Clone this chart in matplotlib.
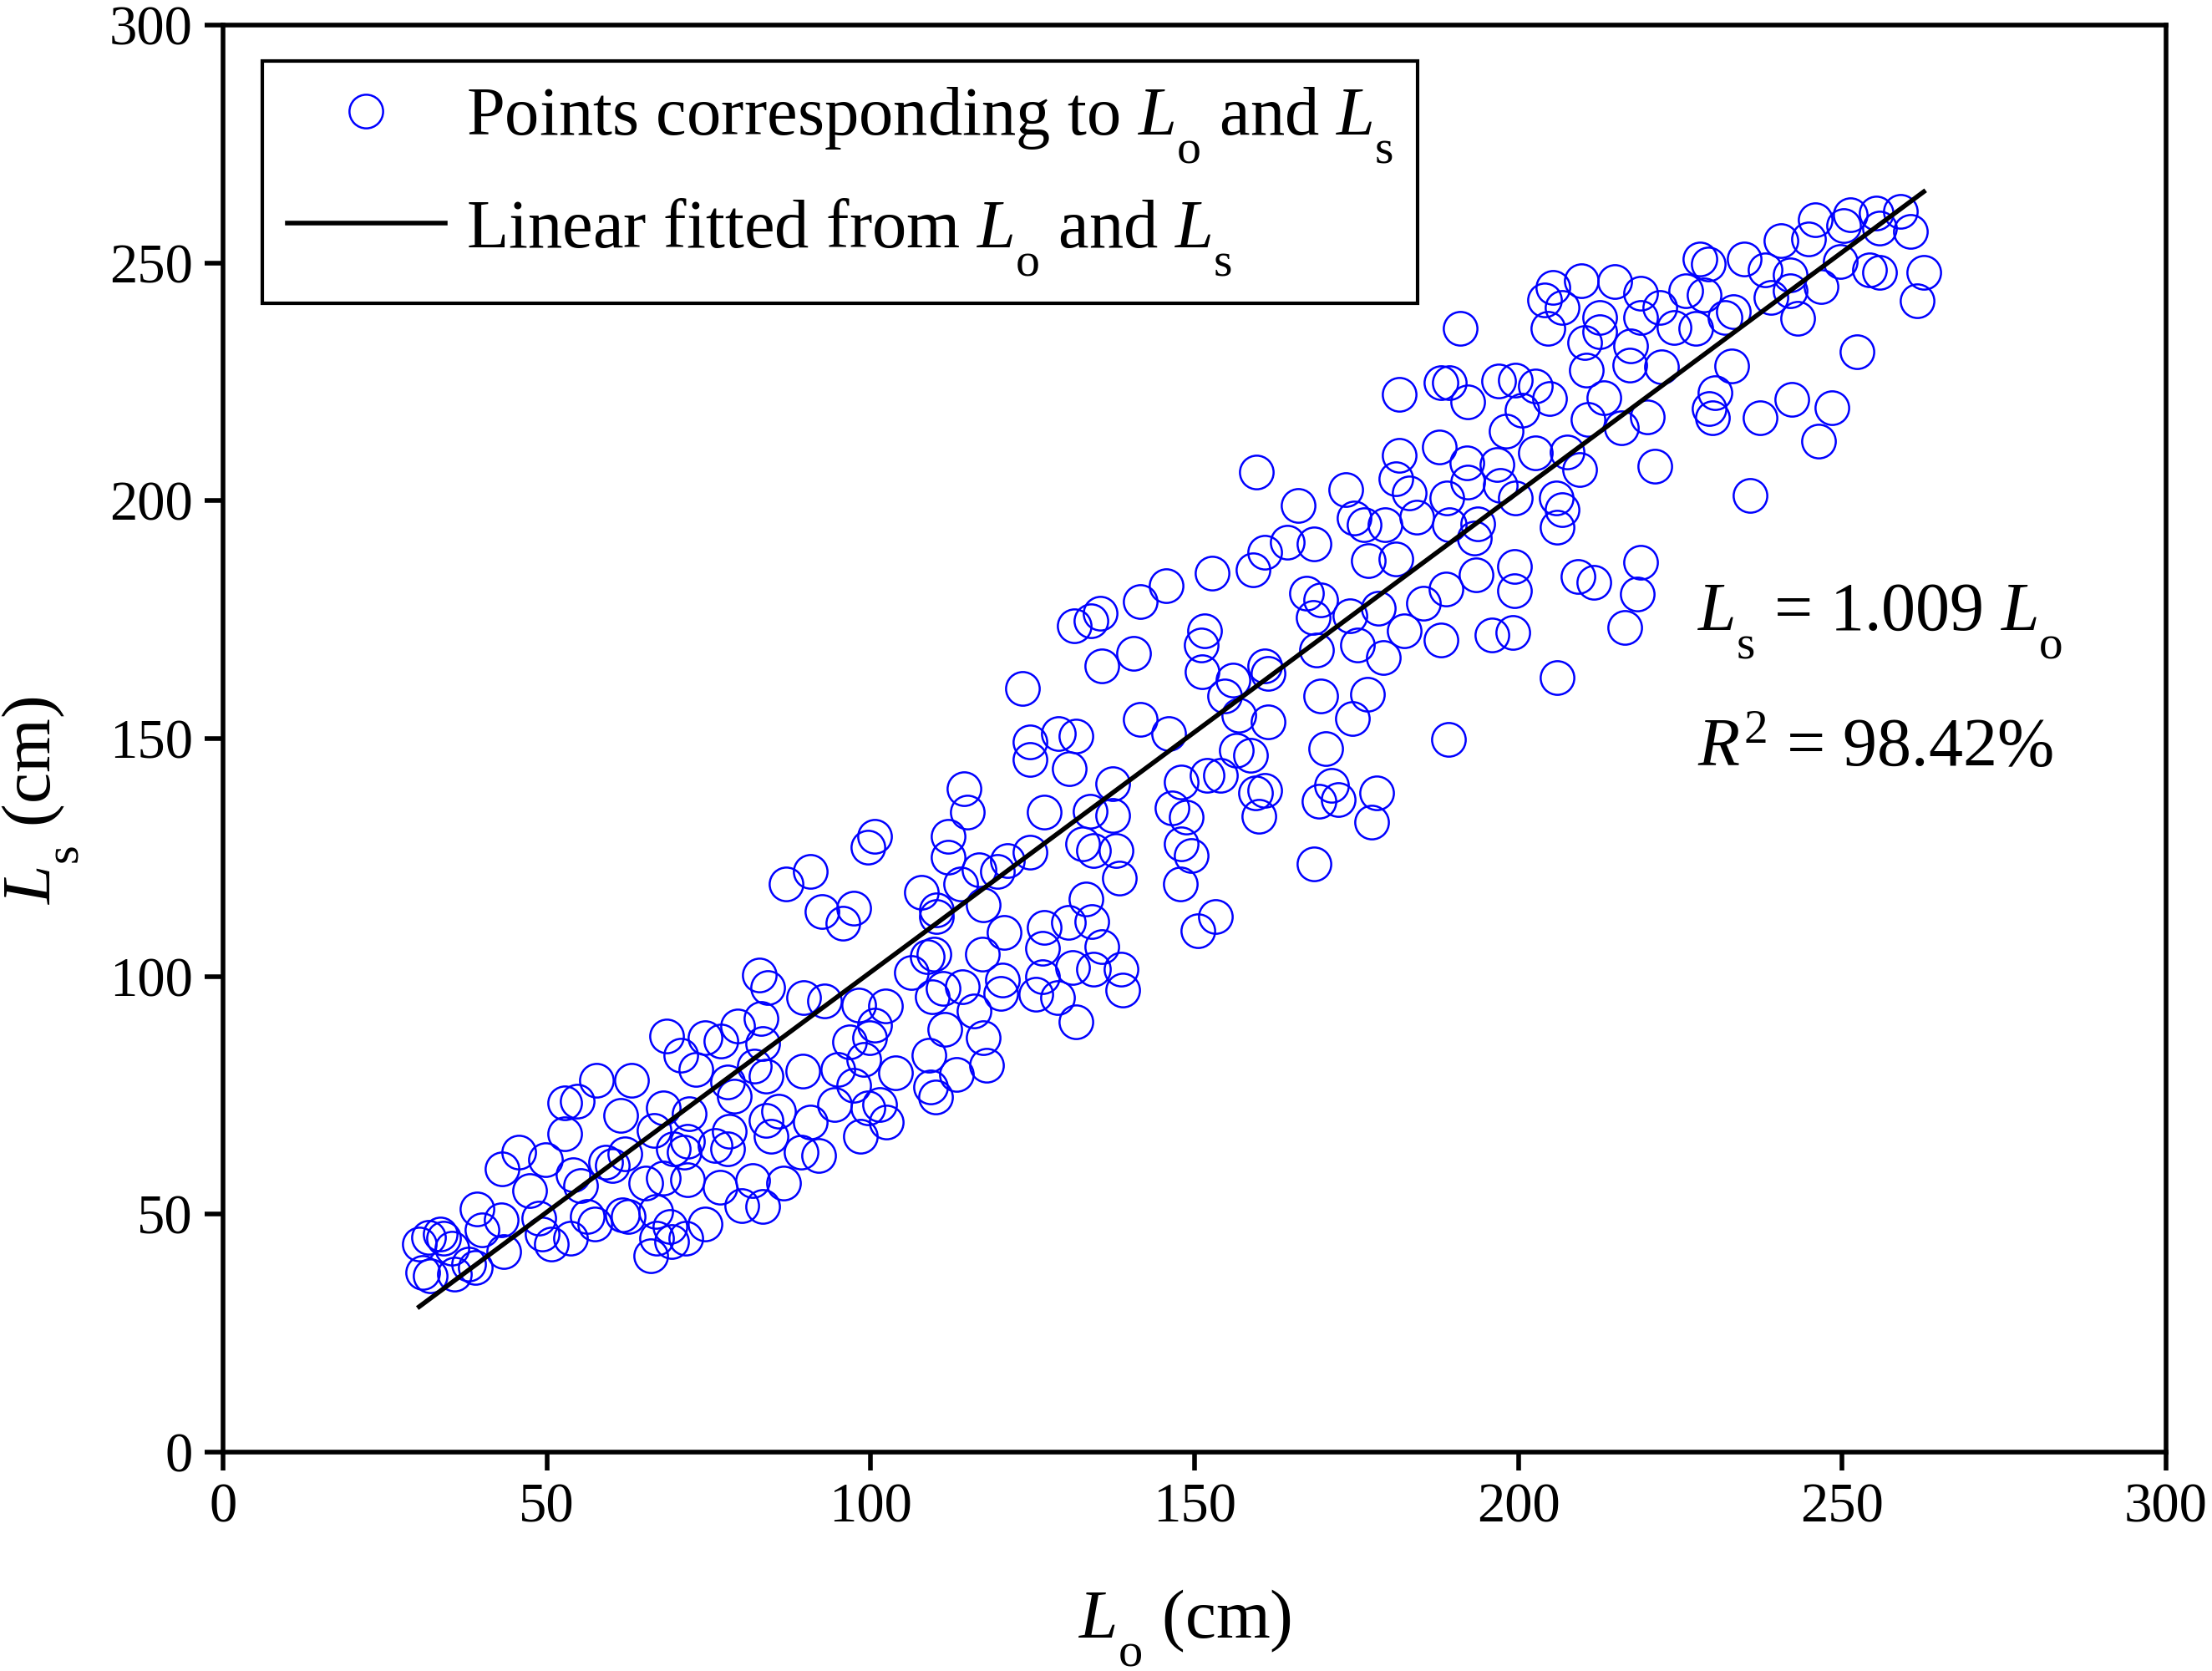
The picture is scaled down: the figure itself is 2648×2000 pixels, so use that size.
#!/usr/bin/env python3
# -*- coding: utf-8 -*-
"""
Scatter of the observed length L_o against the simulated length L_s with the
linear fit through the origin.
"""

import numpy as np
import matplotlib

matplotlib.use("Agg")
import matplotlib.pyplot as plt
from matplotlib import _mathtext

##################################Data#########################################
# points, grouped by region of the band (low -> high)
LO_LOW = [
    30.9, 31.7, 33.5, 34.0, 35.3, 32.0, 35.7, 38.9, 39.2, 42.9, 40.0, 43.3,
    37.9, 43.1, 45.7, 49.8, 47.3, 52.7, 54.7, 57.7, 63.1, 52.7, 61.4, 54.0,
    55.2, 48.8, 49.3, 50.7, 53.7, 56.2, 57.4, 61.6, 59.1, 62.1, 60.1, 62.6,
    66.8, 67.0, 66.1, 69.3, 71.5, 69.0, 74.4, 66.5, 68.0, 68.5, 70.7, 73.0,
    74.4, 76.9, 79.4, 82.8, 84.1, 83.1, 83.3, 77.9, 78.9, 83.8, 82.1, 72.0,
    71.7, 71.2, 69.5, 68.0, 71.7, 76.7, 78.2, 77.9, 83.8, 84.6, 85.8, 81.8,
    86.5, 83.3, 80.1, 89.2, 92.0, 90.7, 89.5, 89.7, 92.9, 94.9, 96.7, 98.1,
    99.9, 98.9, 97.4, 94.4, 98.4, 95.7, 65.3, 76.0, 99.6, 100.6, 30.3,
]
LS_LOW = [
    37.8, 45.2, 45.9, 44.9, 42.8, 37.1, 37.5, 38.8, 51.2, 48.9, 46.7, 42.2,
    39.5, 59.6, 63.0, 61.5, 55.0, 73.4, 73.8, 78.1, 78.1, 67.0, 70.7, 58.3,
    56.0, 49.2, 45.9, 43.8, 44.9, 49.6, 47.9, 49.9, 61.0, 62.7, 60.3, 49.6,
    50.6, 44.9, 41.2, 44.2, 44.9, 47.5, 47.9, 67.7, 72.4, 87.5, 83.5, 80.5,
    87.2, 86.5, 89.5, 100.3, 97.6, 91.2, 85.9, 77.8, 74.8, 79.1, 81.1, 71.1,
    65.4, 63.0, 63.7, 57.6, 57.3, 55.6, 67.4, 63.7, 69.7, 66.4, 71.7, 57.0,
    56.6, 51.6, 51.9, 63.0, 62.3, 69.4, 80.1, 95.6, 94.9, 80.5, 86.2, 93.9,
    87.2, 82.5, 77.1, 73.1, 66.4, 111.1, 56.6, 64.5, 72.4, 89.8, 43.8,
]

LO_MID = [
    87.0, 90.7, 92.5, 97.4, 99.6, 100.6, 102.3, 103.8, 101.4, 102.4, 109.3,
    110.0, 113.2, 109.0, 117.9, 117.4, 111.5, 115.9, 109.5, 111.2, 114.2,
    120.4, 120.1, 106.3, 109.8, 108.8, 117.2, 120.6, 117.4, 126.8, 126.5,
    126.5, 125.5, 128.8, 131.7, 131.2, 134.4, 135.7, 134.2, 133.2, 130.5,
    138.6, 138.9, 107.8, 110.2, 110.2, 113.9, 112.0, 112.0, 114.9, 114.4,
    116.7, 119.6, 121.1, 124.6, 126.8, 124.6, 124.6, 129.0, 131.7, 130.7,
    137.4, 133.9, 137.4, 132.7, 134.4, 137.9, 138.4, 141.6, 146.0, 148.0,
    146.5, 148.7, 148.0, 149.5, 147.8, 150.5, 152.0, 123.5,
]
LS_MID = [
    119.4, 122.1, 113.7, 114.3, 127.1, 129.4, 93.8, 79.7, 73.0, 69.3, 76.7,
    74.7, 79.4, 83.4, 81.4, 87.1, 88.8, 92.8, 95.8, 97.5, 97.9,
    99.2, 96.5, 100.9, 104.6, 104.2, 104.6, 109.3, 115.0, 110.3, 105.9,
    99.9, 96.2, 95.5, 90.5, 101.9, 101.5, 106.3, 111.6, 116.3, 111.3,
    101.5, 97.2, 117.7, 114.0, 112.6, 119.4, 125.1, 129.4, 134.5, 139.5,
    122.4, 122.1, 124.4, 126.1, 134.5, 145.6, 149.3, 151.0, 150.6, 143.6,
    140.5, 134.8, 133.8, 127.8, 126.4, 126.4, 120.7, 154.0, 151.0, 140.9,
    135.5, 133.5, 127.8, 125.4, 119.4, 109.6, 142.2, 160.5,
]

LO_UPPER = [
    159.6, 166.0, 173.4, 174.7, 176.2, 176.9, 174.0, 175.2, 178.4, 167.3,
    169.5, 168.3, 168.8, 164.3, 168.5, 160.9, 159.1, 152.7, 145.6, 141.6,
    135.4, 134.0, 131.5, 151.5, 151.0, 151.2, 135.7, 140.6, 154.7, 155.9,
    160.9, 161.4, 156.9, 161.4, 156.4, 158.6, 154.0, 160.9, 159.4, 159.9,
    169.2, 171.2, 172.2, 178.1, 177.4, 170.2, 169.5, 176.7, 174.4, 189.2,
    168.5, 153.2,
]
LS_UPPER = [
    206.0, 199.0, 202.3, 196.3, 194.9, 187.5, 175.8, 169.7, 177.4, 180.5,
    179.1, 175.4, 168.7, 191.2, 190.9, 189.2, 185.5, 184.8, 182.1, 178.8,
    176.4, 174.8, 173.7, 172.7, 169.7, 164.0, 165.3, 168.0, 159.0, 162.3,
    165.3, 163.7, 154.9, 153.6, 147.5, 146.5, 142.2, 139.1, 138.5, 133.7,
    136.8, 140.1, 137.1, 138.5, 132.4, 147.9, 159.0, 159.3, 154.3, 149.9,
    123.7, 112.6,
]

LO_HIGH = [
    191.0, 205.3, 204.1, 206.8, 204.6, 209.7, 214.9, 218.9, 212.5, 212.5,
    210.2, 218.9, 217.4, 221.8, 210.5, 217.2, 222.1, 213.2, 210.7, 215.9,
    219.9, 204.8, 200.6, 202.6, 199.6, 196.9, 192.2, 189.3, 188.0, 181.6,
    198.1, 187.8, 181.6, 181.1, 183.1, 184.3, 189.0, 192.2, 196.7, 197.2,
    199.6, 202.6, 207.5, 209.5, 205.8, 206.8, 206.0, 193.7, 189.3, 179.4,
    193.2, 181.1, 188.8, 193.5, 199.4, 199.4, 185.3, 182.4, 188.0, 195.9,
    199.1, 179.1, 209.2, 211.7, 218.9, 218.4, 216.4, 206.0, 221.1, 192.0,
]
LS_HIGH = [
    236.2, 244.9, 242.2, 240.6, 236.2, 246.3, 246.0, 243.6, 238.5, 235.5,
    233.2, 238.5, 232.5, 240.6, 227.5, 228.5, 228.1, 221.7, 217.1, 215.4,
    217.7, 221.4, 219.1, 224.1, 225.4, 225.1, 220.7, 224.8, 224.8, 222.4,
    214.7, 211.3, 209.6, 204.6, 201.6, 196.5, 200.6, 203.9, 207.6, 203.3,
    200.6, 210.0, 210.3, 206.6, 200.6, 198.2, 194.5, 195.2, 194.9, 194.9,
    192.2, 187.8, 181.4, 184.4, 186.1, 181.1, 178.4, 172.7, 170.7, 171.7,
    172.3, 167.0, 184.1, 182.8, 187.1, 180.4, 173.3, 162.9, 207.3, 208.0,
]

LO_TOP = [
    228.0, 229.3, 225.9, 228.7, 224.1, 227.4, 231.9, 233.2, 234.9, 238.1,
    240.5, 242.0, 239.0, 242.0, 243.1, 244.8, 245.9, 250.2, 251.2, 255.3,
    255.8, 259.0, 260.5, 246.7, 249.7, 254.2, 255.8, 262.6, 261.6, 252.3,
    233.0, 230.4, 229.5, 230.0, 237.3, 242.2, 248.4, 246.3, 235.8,
]
LS_TOP = [
    250.9, 249.7, 244.1, 243.3, 236.5, 236.2, 238.6, 239.8, 250.9, 248.5,
    254.7, 247.4, 242.7, 244.1, 238.3, 255.0, 259.1, 257.9, 260.2, 260.5,
    257.3, 260.8, 256.7, 245.0, 250.3, 248.5, 248.0, 248.0, 242.1, 231.3,
    228.3, 222.8, 219.3, 217.5, 217.5, 221.3, 219.5, 212.5, 201.1,
]

SLOPE: float = 1.009
R2_TEXT: str = "98.42%"
TICKS: list[int] = [0, 50, 100, 150, 200, 250, 300]
###############################Style settings##################################
SERIF = "Liberation Serif"
plt.rcParams["font.family"] = "serif"
plt.rcParams["font.serif"] = [SERIF, "DejaVu Serif"]
plt.rcParams["mathtext.fontset"] = "custom"
plt.rcParams["mathtext.rm"] = SERIF
plt.rcParams["mathtext.it"] = f"{SERIF}:italic"
plt.rcParams["mathtext.bf"] = f"{SERIF}:bold"
# the original drops its subscripts much lower than mathtext does by default
if hasattr(_mathtext, "FontConstantsBase"):
    _mathtext.FontConstantsBase.sub1 = 0.9

##################################Make plot####################################
if __name__ == "__main__":
    lo = np.array(LO_LOW + LO_MID + LO_UPPER + LO_HIGH + LO_TOP)
    ls = np.array(LS_LOW + LS_MID + LS_UPPER + LS_HIGH + LS_TOP)
    if len(lo) != len(ls):
        raise Exception("L_o and L_s lists do not have the same length.")

    fig = plt.figure(figsize=(13.24, 10), dpi=200)
    ax = fig.add_axes([0.1008, 0.131, 0.8784, 0.854])

    ax.plot(
        lo,
        ls,
        linestyle="none",
        marker="o",
        markersize=14.5,
        markerfacecolor="none",
        markeredgecolor="#0000ff",
        markeredgewidth=0.9,
        label=r"Points corresponding to $L_{\rm o}$ and $L_{\rm s}$",
    )
    fit_x = np.array([lo.min(), lo.max()])
    ax.plot(
        fit_x,
        SLOPE * fit_x,
        color="black",
        linewidth=2.0,
        label=r"Linear fitted from $L_{\rm o}$ and $L_{\rm s}$",
    )

    ax.text(
        227.7, 172.7, rf"$L_{{\rm s}}$ = {SLOPE:.3f} $L_{{\rm o}}$",
        fontsize=29.5, ha="left", va="baseline",
    )
    ax.text(
        227.7, 144.2, rf"$R^2$ = {R2_TEXT}",
        fontsize=29.5, ha="left", va="baseline",
    )

    ax.set_xlim(0, 300)
    ax.set_ylim(0, 300)
    ax.set_xticks(TICKS)
    ax.set_yticks(TICKS)
    ax.tick_params(
        direction="out", length=8, width=2, labelsize=24, pad=5,
        top=False, right=False,
    )
    for spine in ax.spines.values():
        spine.set_linewidth(2)

    ax.set_xlabel(r"$L_{\rm o}$ (cm)", fontsize=30)
    ax.set_ylabel(r"$L_{\rm s}$ (cm)", fontsize=30)
    ax.xaxis.set_label_coords(0.495, -0.095)
    ax.yaxis.set_label_coords(-0.073, 0.457)

    leg = ax.legend(
        loc="upper left",
        bbox_to_anchor=(0.0202, 0.9748),
        borderaxespad=0,
        fontsize=29.7,
        frameon=True,
        fancybox=False,
        edgecolor="black",
        framealpha=1,
        numpoints=1,
        handlelength=2.3,
        handletextpad=0.3,
        borderpad=0.36,
        labelspacing=0.45,
    )
    leg.get_frame().set_linewidth(1.5)

    plt.savefig("out.png", dpi=200)
    plt.close(fig)
